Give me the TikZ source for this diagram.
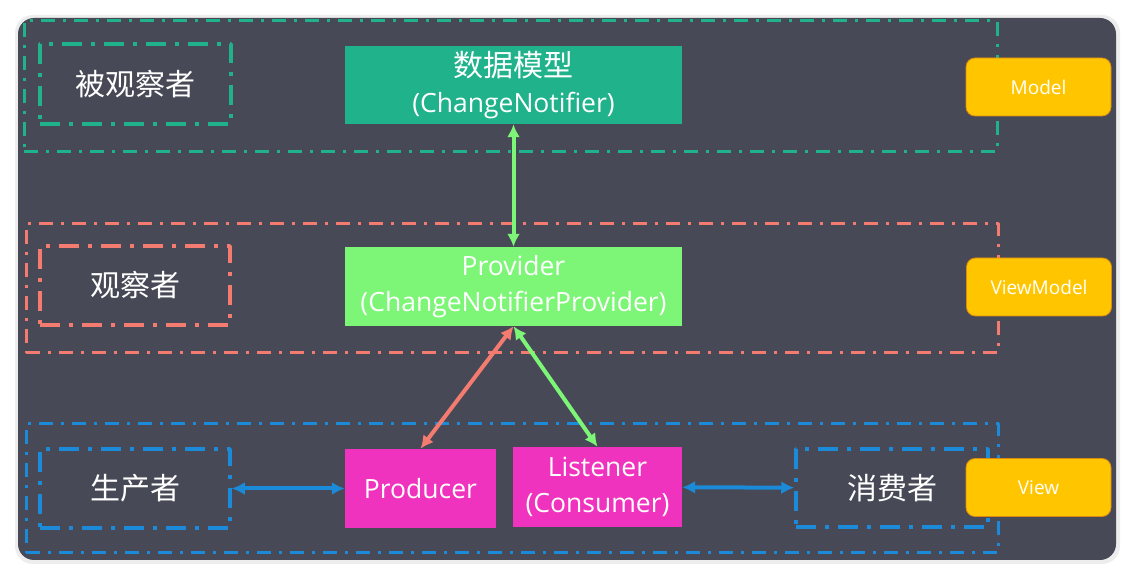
\documentclass[tikz,border=0pt]{standalone}
\usepackage{fontspec}
\usetikzlibrary{arrows.meta}
\setmainfont{Open Sans}
\newfontfamily\cjk{Noto Sans CJK SC}
\definecolor{bgdark}{HTML}{474A56}
\definecolor{teal}{HTML}{1FB28B}
\definecolor{salmon}{HTML}{F47B6F}
\definecolor{skyblue}{HTML}{1A8AD9}
\definecolor{lightgreen}{HTML}{7DF577}
\definecolor{magenta}{HTML}{F033BE}
\definecolor{tagyellow}{HTML}{FFC600}
\definecolor{tagedge}{HTML}{D98A10}
\begin{document}
\begin{tikzpicture}[>={Latex[length=13bp,width=13bp]},line join=bevel,
  layer/.style={draw,line width=3bp,dash pattern=on 14bp off 8bp on 3bp off 8bp,minimum width=972bp,minimum height=129bp,inner sep=0pt},
  role/.style={draw,line width=3.5bp,dash pattern=on 20bp off 9bp on 4bp off 9bp,minimum width=190bp,minimum height=79bp,inner sep=0pt,text=white,font=\cjk\fontsize{30bp}{34bp}\selectfont},
  block/.style={draw=none,inner sep=0pt,text=white,align=center,font=\fontsize{26.5bp}{36bp}\selectfont},
  tag/.style={draw=tagedge,line width=0.8bp,fill=tagyellow,rounded corners=9bp,minimum width=145bp,minimum height=58bp,inner sep=0pt,text=white,font=\fontsize{19bp}{22bp}\selectfont},
  link/.style={<->,line width=4bp},
]
%%
\useasboundingbox (0bp,0bp) rectangle (1134bp,579bp);
\fill [white] (0bp,0bp) rectangle (1134bp,579bp);
\fill [black!7,rounded corners=18bp] (15bp,15bp) rectangle (1120bp,564bp);
\fill [bgdark,rounded corners=16bp] (18bp,19bp) rectangle (1116bp,561bp);
%
\node (node_0) at (510.5bp,492.5bp) [layer,draw=teal,minimum width=973bp,minimum height=131bp] {};
  \node (node_1) at (512bp,290.5bp) [layer,draw=salmon] {};
  \node (node_2) at (512bp,90.5bp) [layer,draw=skyblue] {};
%
\node (node_3) at (135.5bp,495bp) [role,draw=teal,minimum width=191bp,minimum height=80bp] {被观察者};
  \node (node_4) at (135bp,293.5bp) [role,draw=salmon] {观察者};
  \node (node_5) at (135bp,90.5bp) [role,draw=skyblue] {生产者};
  \node (node_6) at (892bp,91bp) [role,draw=skyblue,minimum width=192bp,minimum height=78bp] {消费者};
%
\node (node_7) at (513.5bp,494bp) [block,fill=teal,minimum width=337bp,minimum height=78bp] {{\cjk\fontsize{30bp}{36bp}\selectfont 数据模型}\\(ChangeNotifier)};
  \node (node_8) at (513.5bp,292.5bp) [block,fill=lightgreen,minimum width=337bp,minimum height=79bp] {Provider\\(ChangeNotifierProvider)};
  \node (node_9) at (420.5bp,90.5bp) [block,fill=magenta,minimum width=151bp,minimum height=79bp] {Producer};
  \node (node_10) at (597.5bp,92bp) [block,fill=magenta,minimum width=169bp,minimum height=80bp] {Listener\\(Consumer)};
%
\node (node_11) at (1038.5bp,492bp) [tag] {Model};
  \node (node_12) at (1039bp,292bp) [tag] {ViewModel};
  \node (node_13) at (1038.5bp,91.5bp) [tag] {View};
%
\draw [link,lightgreen] (node_7) -- (node_8);
  \draw [link,salmon] (node_8.south) -- (node_9.north);
  \draw [link,lightgreen] (node_8.south) -- (node_10.north);
  \draw [link,skyblue] (node_5) -- (node_9);
  \draw [link,skyblue] (node_10) -- (node_6);
%
\end{tikzpicture}
\end{document}
